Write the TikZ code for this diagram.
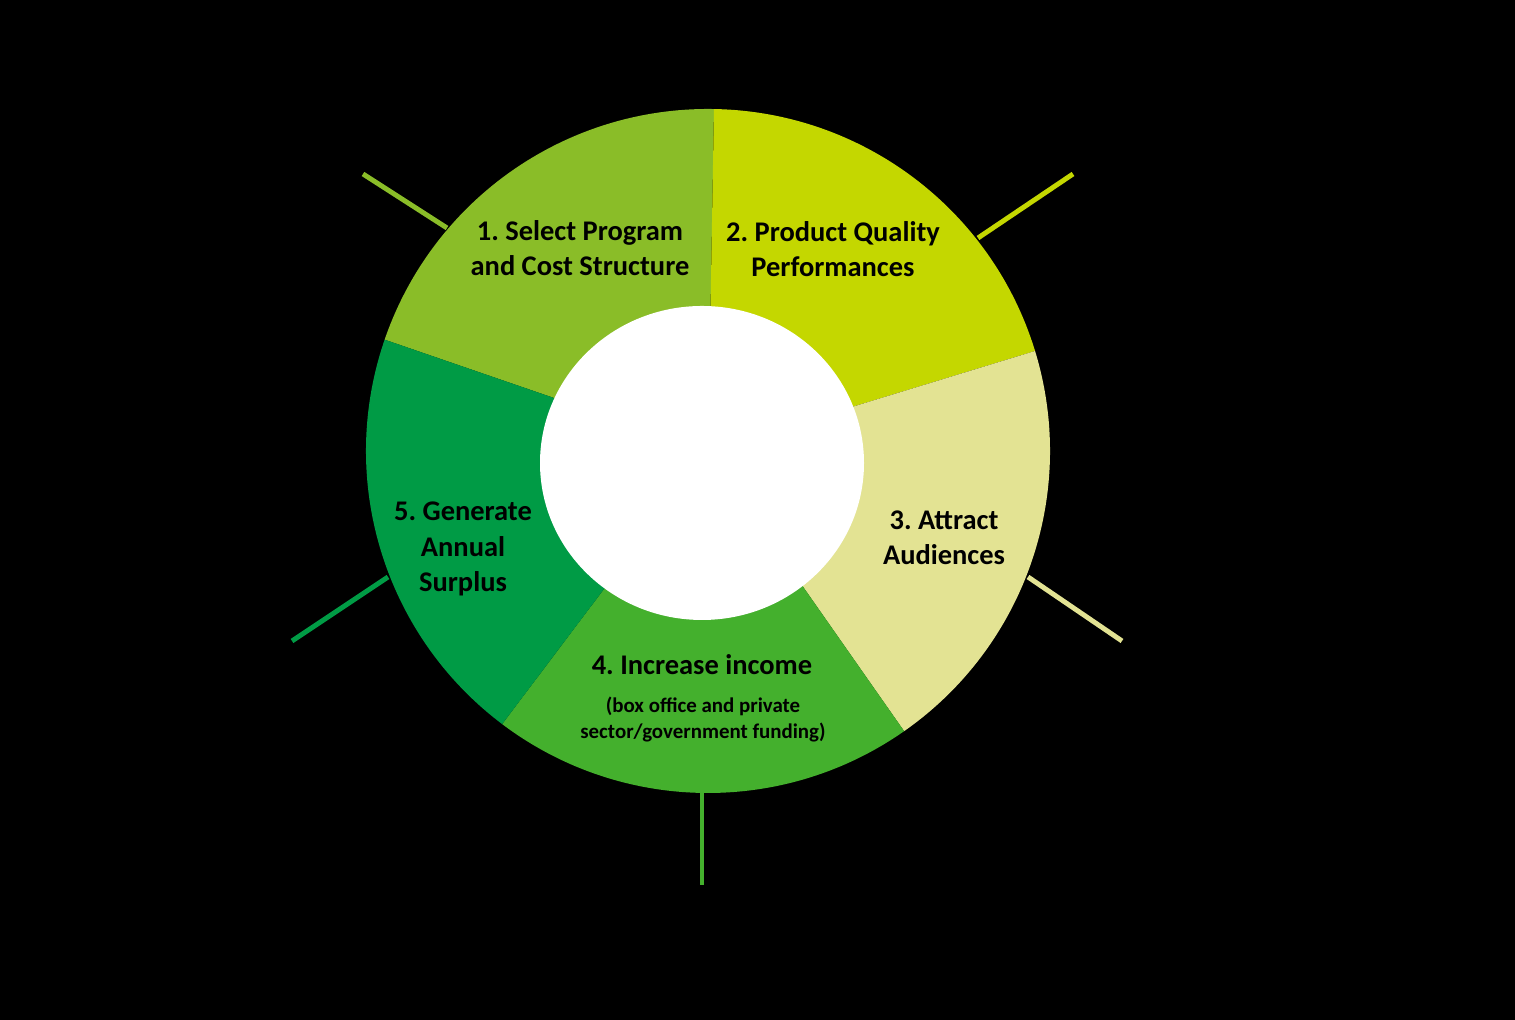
\documentclass[tikz,border=0pt]{standalone}
\usepackage{fontspec}
\setmainfont{Carlito}
\frenchspacing
\definecolor{segone}{HTML}{8ABD28}
\definecolor{segtwo}{HTML}{C4D700}
\definecolor{segthree}{HTML}{E3E393}
\definecolor{segfour}{HTML}{44B02D}
\definecolor{segfive}{HTML}{009B45}
\begin{document}
\begin{tikzpicture}[
    seglabel/.style={font=\bfseries\fontsize{8.1}{10}\selectfont, align=center, text=black},
    sublabel/.style={font=\bfseries\fontsize{5.95}{7.4}\selectfont, align=center, text=black},
    spoke/.style={line width=1.4pt}]
    \fill[black] (0,0) rectangle (15.15,10.2);
    \coordinate (c) at (7.08,5.69);
    % ring segments
    \fill[segone] (c) -- ++(89:3.42) arc (89:161:3.42) -- cycle;
    \fill[segtwo] (c) -- ++(17:3.42) arc (17:89:3.42) -- cycle;
    \fill[segthree] (c) -- ++(-55:3.42) arc (-55:17:3.42) -- cycle;
    \fill[segfour] (c) -- ++(-127:3.42) arc (-127:-55:3.42) -- cycle;
    \fill[segfive] (c) -- ++(161:3.42) arc (161:233:3.42) -- cycle;
    \fill[white] (7.02,5.57) ellipse (1.62 and 1.57);
    % spokes
    \coordinate (s1a) at (4.47,7.92); \coordinate (s1b) at (3.63,8.46);
    \coordinate (s2a) at (9.78,7.82); \coordinate (s2b) at (10.73,8.46);
    \coordinate (s3a) at (10.28,4.43); \coordinate (s3b) at (11.22,3.79);
    \coordinate (s4a) at (7.02,2.30); \coordinate (s4b) at (7.02,1.35);
    \coordinate (s5a) at (3.88,4.43); \coordinate (s5b) at (2.92,3.79);
    \draw[spoke, segone] (s1a) -- (s1b);
    \draw[spoke, segtwo] (s2a) -- (s2b);
    \draw[spoke, segthree] (s3a) -- (s3b);
    \draw[spoke, segfour] (s4a) -- (s4b);
    \draw[spoke, segfive] (s5a) -- (s5b);
    % labels
    \node[seglabel] (select) at (5.80,7.72) {1. Select Program\\and Cost Structure};
    \node[seglabel] (quality) at (8.33,7.71) {2. Product Quality\\Performances};
    \node[seglabel] (attract) at (9.44,4.82) {3. Attract\\Audiences};
    \node[seglabel] (income) at (7.02,3.55) {4. Increase income};
    \node[sublabel] (funding) at (7.03,3.00) {(box office and private\\sector/government funding)};
    \node[seglabel] (surplus) at (4.63,4.71) {5. Generate\\Annual\\Surplus};
\end{tikzpicture}
\end{document}
